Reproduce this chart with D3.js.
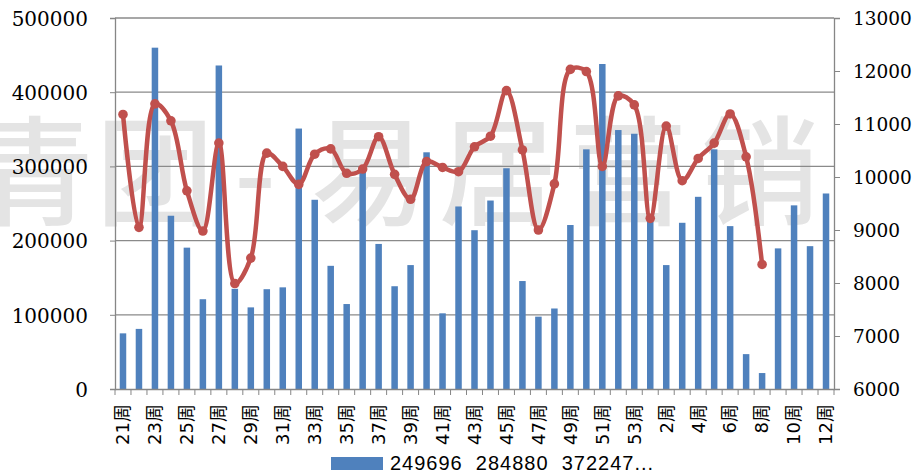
<!DOCTYPE html>
<html>
<head>
<meta charset="utf-8">
<script src="https://cdn.jsdelivr.net/npm/d3@7"></script>
<style>
  html, body { margin: 0; padding: 0; background: #fff; }
  svg { display: block; }
</style>
</head>
<body>
<svg id="chart"></svg>
<script>
const weeks = [
  '21周','22周','23周','24周','25周','26周','27周','28周','29周','30周','31周','32周','33周',
  '34周','35周','36周','37周','38周','39周','40周','41周','42周','43周','44周','45周','46周',
  '47周','48周','49周','50周','51周','52周','53周',
  '1周','2周','3周','4周','5周','6周','7周','8周','9周','10周','11周','12周'
]

// bars, left axis
const volume = [
  75000, 81000, 460000, 233500, 190500, 121000, 436000, 135000, 110000, 134500, 137000, 351000, 255000,
  166000, 114500, 297500, 195500, 138500, 167000, 319000, 102000, 246000, 214000, 254000, 297500, 145500,
  97500, 108500, 221000, 323000, 438000, 349000, 344000,
  225500, 167000, 224000, 259000, 323000, 219500, 47000, 21500, 189500, 247500, 192500, 263500
]

// line, right axis (no value after week 8)
const price = [
  11180, 9050, 11380, 11060, 9740, 8980, 10640, 7990, 8470, 10450, 10200, 9860, 10430,
  10530, 10070, 10150, 10760, 10050, 9580, 10290, 10180, 10100, 10570, 10770, 11630, 10510,
  9000, 9870, 12030, 11990, 10200, 11530, 11360,
  9220, 10960, 9930, 10350, 10640, 11190, 10380, 8350, null, null, null, null
]

const leftTicks = [0, 100000, 200000, 300000, 400000, 500000]
const rightTicks = [6000, 7000, 8000, 9000, 10000, 11000, 12000, 13000]
const legendLabel = '249696  284880  372247...'
const watermark = ['青', '团', '-', '易', '居', '营', '销']

const width = 918, height = 473
const margin = { top: 18, right: 84, bottom: 84, left: 115 }

const svg = d3.select('#chart')
    .attr('width', width)
    .attr('height', height)

const x = d3.scaleBand()
    .domain(weeks)
    .range([margin.left, width - margin.right])

const y = d3.scaleLinear()
    .domain([0, 500000])
    .range([height - margin.bottom, margin.top])

const y2 = d3.scaleLinear()
    .domain([6000, 13000])
    .range([height - margin.bottom, margin.top])

// watermark behind everything
const wmX = [35, 155, 255, 370, 498, 628, 760]
svg.append('g')
    .selectAll('text')
    .data(watermark)
    .join('text')
    .attr('x', (d, i) => wmX[i])
    .attr('y', 216)
    .attr('text-anchor', 'middle')
    .attr('font-family', '"Noto Sans CJK SC"')
    .attr('font-weight', 500)
    .attr('font-size', 118)
    .attr('fill', '#e4e4e4')
    .text(d => d)

// grid
svg.append('g')
    .selectAll('line')
    .data(leftTicks.slice(1))
    .join('line')
    .attr('x1', margin.left)
    .attr('x2', width - margin.right)
    .attr('y1', d => y(d))
    .attr('y2', d => y(d))
    .attr('stroke', '#8a8a8a')
    .attr('stroke-width', 1.3)

// bars
const barW = 6.5
svg.append('g')
    .selectAll('rect')
    .data(volume)
    .join('rect')
    .attr('x', (d, i) => x(weeks[i]) + x.bandwidth() / 2 - barW / 2)
    .attr('width', barW)
    .attr('y', d => y(d))
    .attr('height', d => y(0) - y(d))
    .attr('fill', '#4F81BD')

// axes
const axisColor = '#868686'
const serif = '"DejaVu Serif", "Noto Sans CJK SC"'

const gl = svg.append('g')
    .attr('transform', `translate(${margin.left},0)`)
    .call(d3.axisLeft(y).tickValues(leftTicks).tickFormat(d3.format('d')).tickSizeOuter(0).tickSize(5).tickPadding(22))
gl.select('.domain').attr('stroke', axisColor).attr('stroke-width', 1.3)
gl.selectAll('.tick line').attr('stroke', axisColor)
gl.selectAll('.tick text')
    .attr('font-family', serif)
    .attr('font-size', 20)
    .attr('fill', '#000')
    .attr('dy', '0.36em')

const gr = svg.append('g')
    .attr('transform', `translate(${width - margin.right},0)`)
    .call(d3.axisRight(y2).tickValues(rightTicks).tickFormat(d3.format('d')).tickSizeOuter(0).tickSize(6).tickPadding(13))
gr.select('.domain').attr('stroke', axisColor).attr('stroke-width', 1.3)
gr.selectAll('.tick line').attr('stroke', axisColor)
gr.selectAll('.tick text')
    .attr('font-family', serif)
    .attr('font-size', 18.5)
    .attr('fill', '#000')
    .attr('dy', '0.36em')

const gb = svg.append('g')
    .attr('transform', `translate(0,${height - margin.bottom})`)
    .call(d3.axisBottom(x).tickSize(0).tickSizeOuter(0).tickFormat((d, i) => i % 2 === 0 ? d : ''))
gb.select('.domain').attr('stroke', axisColor).attr('stroke-width', 1.3)
gb.selectAll('.tick text')
    .attr('font-family', '"DejaVu Sans", "Noto Sans CJK SC"')
    .attr('font-size', 18)
    .attr('fill', '#000')
    .attr('text-anchor', 'end')
    .attr('transform', 'rotate(-90)')
    .attr('x', -15)
    .attr('y', 0)
    .attr('dy', '0.35em')

// category boundary ticks
gb.append('g')
    .selectAll('line')
    .data(d3.range(weeks.length + 1))
    .join('line')
    .attr('x1', i => margin.left + i * x.step())
    .attr('x2', i => margin.left + i * x.step())
    .attr('y1', 0)
    .attr('y2', 6)
    .attr('stroke', axisColor)

// line
const pts = price.map((v, i) => ({ w: weeks[i], v })).filter(d => d.v != null)
svg.append('path')
    .datum(pts)
    .attr('d', d3.line()
        .x(d => x(d.w) + x.bandwidth() / 2)
        .y(d => y2(d.v))
        .curve(d3.curveCatmullRom.alpha(0.5)))
    .attr('fill', 'none')
    .attr('stroke', '#C0504D')
    .attr('stroke-width', 4.5)
    .attr('stroke-linejoin', 'round')

svg.append('g')
    .selectAll('circle')
    .data(pts)
    .join('circle')
    .attr('cx', d => x(d.w) + x.bandwidth() / 2)
    .attr('cy', d => y2(d.v))
    .attr('r', 4.8)
    .attr('fill', '#C0504D')

// legend
const lg = svg.append('g').attr('transform', 'translate(331,457)')
lg.append('rect')
    .attr('width', 52)
    .attr('height', 13)
    .attr('fill', '#4F81BD')
lg.append('text')
    .attr('x', 59)
    .attr('y', 13)
    .attr('font-family', '"Liberation Sans"')
    .attr('font-size', 20)
    .attr('letter-spacing', 1)
    .attr('fill', '#000')
    .style('white-space', 'pre')
    .text(legendLabel)
</script>
</body>
</html>
